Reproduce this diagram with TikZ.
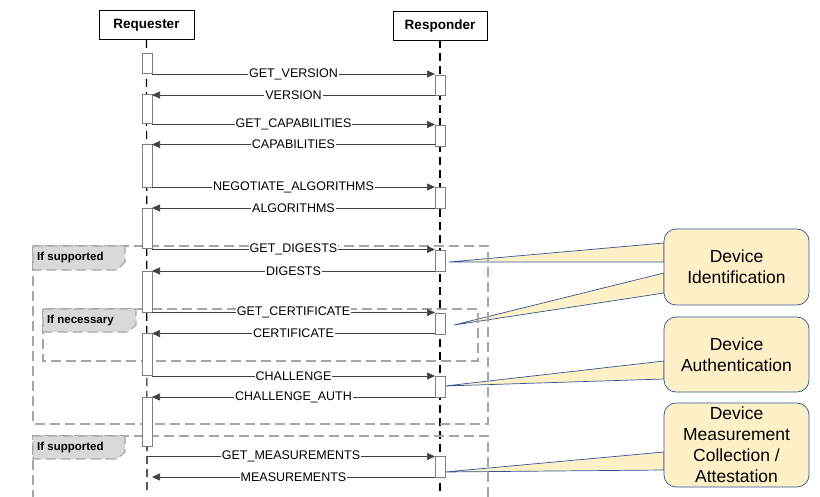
\documentclass[tikz,border=0pt]{standalone}
\usepackage{fontspec}
\setmainfont{Liberation Sans}
\usetikzlibrary{arrows.meta,backgrounds}

\definecolor{notefill}{HTML}{FFF0C8}
\definecolor{noteline}{HTML}{2F5597}
\definecolor{framegray}{HTML}{A6A6A6}
\definecolor{tabgray}{HTML}{D9D9D9}

\tikzset{
  head/.style={draw=black, line width=1pt, fill=white, minimum height=29pt,
    inner sep=0pt, outer sep=0pt, font=\fontsize{13.5}{15}\selectfont\bfseries},
  life/.style={line width=1.2pt, dash pattern=on 8pt off 5pt},
  actbox/.style={draw=gray, fill=white, line width=0.7pt},
  msg/.style={draw=black!75, line width=0.7pt, -{Triangle[length=8pt,width=7pt]}},
  lbl/.style={fill=white, inner sep=1pt, font=\fontsize{12.5}{14}\selectfont},
  frame/.style={draw=framegray, line width=1.1pt, dash pattern=on 10pt off 5pt},
  tab/.style={frame, fill=tabgray},
  tablbl/.style={anchor=west, inner sep=0pt, font=\fontsize{11.5}{13}\selectfont\bfseries},
  note/.style={draw=noteline, fill=notefill, line width=0.7pt, rounded corners=12pt,
    minimum width=145pt, inner sep=0pt, outer sep=0pt, align=center,
    font=\fontsize{17.5}{21}\selectfont},
  wedge/.style={draw=noteline, fill=notefill, line width=0.7pt}
}

\begin{document}
\begin{tikzpicture}[x=1pt, y=-1pt]
    \useasboundingbox (0,0) rectangle (820,497);

    % Lifelines
    \node[head, minimum width=95pt] (req) at (146.5,25.5) {Requester};
    \node[head, minimum width=94pt] (rsp) at (440,26) {Responder};
    \coordinate (reqend) at (147,492);
    \coordinate (rspend) at (440,492);
    \draw[life] (req.south) -- (reqend);
    \draw[life] (rsp.south) -- (rspend);

    % Fragments
    \draw[frame] (33,246) rectangle (488,424);
    \draw[tab] (33,246) -- (125,246) -- (125,262) -- (117,270) -- (33,270) -- cycle;
    \node[tablbl] (sup1) at (37,258) {If supported};

    \draw[frame] (43,309) rectangle (478,361);
    \draw[tab] (43,309) -- (136,309) -- (136,325) -- (128,332) -- (43,332) -- cycle;
    \node[tablbl] (nec) at (47,320.5) {If necessary};

    \draw[frame] (33,500) -- (33,436) -- (488,436) -- (488,500);
    \draw[tab] (33,436) -- (125,436) -- (125,452) -- (117,459) -- (33,459) -- cycle;
    \node[tablbl] (sup2) at (37,447.5) {If supported};

    % Activations
    \foreach \a/\b in {53/73, 94/123, 144/187, 208/248, 271/312, 333/375, 397/446}
    {\draw[actbox] (142,\a) rectangle (152,\b);}
    \foreach \a/\b in {75/95, 125/146, 187/208, 250/271, 313/334, 376/397, 456/477}
    {\draw[actbox] (435,\a) rectangle (445,\b);}

    % Messages
    \foreach \y/\txt/\s/\e [count=\i] in {
        74/GET\_VERSION/152/435, 95/VERSION/435/152,
        124.5/GET\_CAPABILITIES/152/435, 144.5/CAPABILITIES/435/152,
        187/NEGOTIATE\_ALGORITHMS/152/435, 208/ALGORITHMS/435/152,
        249.5/GET\_DIGESTS/152/435, 271/DIGESTS/435/152,
        312.5/GET\_CERTIFICATE/152/435, 333.5/CERTIFICATE/435/152,
        376/CHALLENGE/152/435, 397/CHALLENGE\_AUTH/435/152,
        456.5/GET\_MEASUREMENTS/147/435, 477/MEASUREMENTS/435/152}
    {\coordinate (ms\i) at (\s,\y);
     \coordinate (me\i) at (\e,\y);
     \draw[msg] (ms\i) -- node[lbl] {\txt} (me\i);}

    % Notes
    \node[note, minimum height=76pt] (ident) at (736.5,267) {Device\\Identification};
    \node[note, minimum height=75pt] (auth) at (736.5,354.5) {Device\\Authentication};
    \node[note, minimum height=84pt] (meas) at (736.5,445) {Device\\Measurement\\Collection /\\Attestation};

    \coordinate (tipid) at (449,262);
    \coordinate (tipcert) at (454,325);
    \coordinate (tipauth) at (445,386);
    \coordinate (tipmeas) at (445,472);
    \begin{pgfonlayer}{background}
    \filldraw[wedge] (tipid) -- (ident.west |- 0,243) -- (ident.west |- 0,262) -- cycle;
    \filldraw[wedge] (tipcert) -- (ident.west |- 0,273) -- (ident.west |- 0,293) -- cycle;
    \filldraw[wedge] (tipauth) -- (auth.west |- 0,361) -- (auth.west |- 0,379) -- cycle;
    \filldraw[wedge] (tipmeas) -- (meas.west |- 0,452) -- (meas.west |- 0,470) -- cycle;
    \end{pgfonlayer}
\end{tikzpicture}
\end{document}
